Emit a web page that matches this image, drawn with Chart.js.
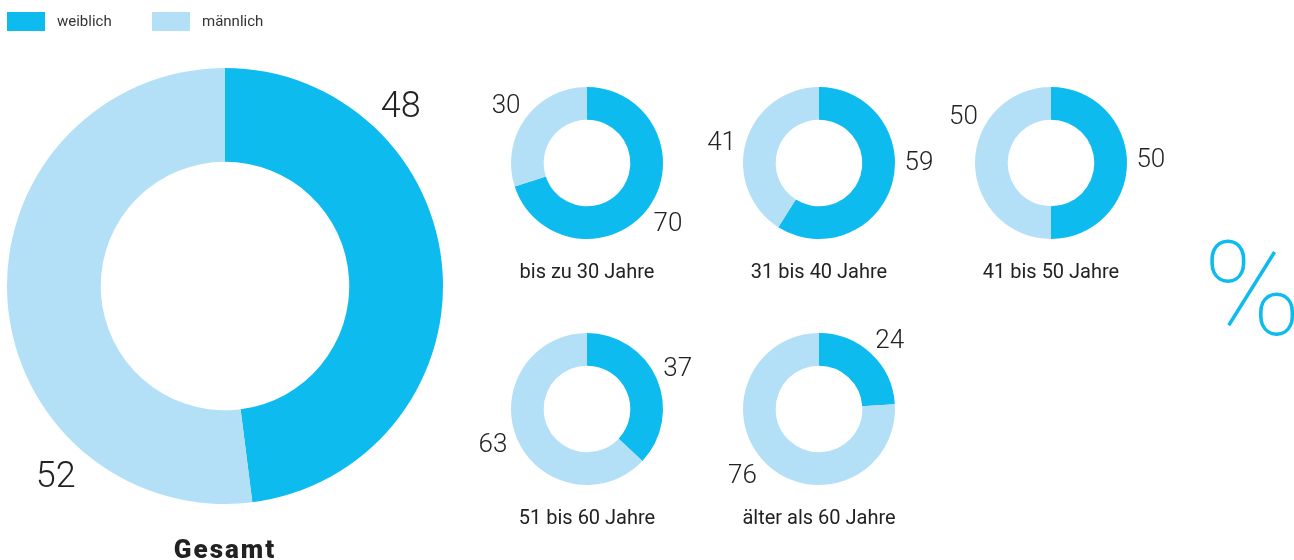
<!DOCTYPE html>
<html>
<head>
<meta charset="utf-8">
<script src="https://cdn.jsdelivr.net/npm/chart.js@4/dist/chart.umd.min.js"></script>
<style>
  body { margin: 0; background: #fff; width: 1294px; height: 560px; position: relative; overflow: hidden; font-family: Roboto, sans-serif; }
  .box { position: absolute; }
  #pct { position: absolute; left: 1203px; top: 224px; font: 100 132px Roboto, sans-serif; line-height: 1; color: #0dbbef; }
</style>
</head>
<body>
<div class="box" style="left:0;top:0;width:450px;height:560px"><canvas id="gesamt"></canvas></div>
<div class="box" style="left:471px;top:63px;width:232px;height:240px"><canvas id="g0"></canvas></div>
<div class="box" style="left:703px;top:63px;width:232px;height:240px"><canvas id="g1"></canvas></div>
<div class="box" style="left:935px;top:63px;width:232px;height:240px"><canvas id="g2"></canvas></div>
<div class="box" style="left:471px;top:309px;width:232px;height:240px"><canvas id="g3"></canvas></div>
<div class="box" style="left:703px;top:309px;width:232px;height:240px"><canvas id="g4"></canvas></div>
<div id="pct">%</div>
<script>
const genders = ['weiblich', 'männlich'];
const colors = ['#0dbbef', '#b3e0f7'];

const gesamt = [48, 52];

const groups = ['bis zu 30 Jahre', '31 bis 40 Jahre', '41 bis 50 Jahre', '51 bis 60 Jahre', 'älter als 60 Jahre'];
const weiblich = [70, 59, 50, 37, 24];
const maennlich = [30, 41, 50, 63, 76];

// label angles (degrees clockwise from top), null = middle of the slice
const labelAngles = [null, [89, 283], [87, 299], [65, 250], [45, 230]];

const valueLabels = {
    id: 'valueLabels',
    afterDatasetsDraw(chart, args, opts) {
        const ctx = chart.ctx;
        const meta = chart.getDatasetMeta(0);
        let cx = 0, cy = 0, outer = 0;
        ctx.save();
        ctx.fillStyle = '#222';
        ctx.textAlign = 'center';
        ctx.textBaseline = 'alphabetic';
        ctx.font = opts.font;
        meta.data.forEach(function(arc, i) {
            const p = arc.getProps(['x', 'y', 'startAngle', 'endAngle', 'outerRadius'], true);
            cx = p.x; cy = p.y; outer = p.outerRadius;
            let a = (p.startAngle + p.endAngle) / 2;
            if (opts.angles) {
                a = (opts.angles[i] - 90) * Math.PI / 180;
            }
            const r = p.outerRadius + opts.gap;
            // digits centred on the point
            ctx.fillText(chart.data.datasets[0].data[i], cx + r * Math.cos(a), cy + r * Math.sin(a) + opts.size * 0.355);
        });
        ctx.textBaseline = 'middle';
        ctx.font = opts.captionFont;
        ctx.letterSpacing = opts.captionSpacing || '0px';
        ctx.fillText(opts.caption, cx, cy + outer + opts.captionGap);
        ctx.restore();
    }
};

const legendBoxes = {
    id: 'legendBoxes',
    afterDraw(chart) {
        const ctx = chart.ctx;
        const xs = [7, 152];
        ctx.save();
        ctx.font = '15px Roboto, sans-serif';
        ctx.textBaseline = 'middle';
        genders.forEach(function(g, i) {
            ctx.fillStyle = colors[i];
            ctx.fillRect(xs[i], 12, 38, 19);
            ctx.fillStyle = '#333';
            ctx.fillText(g, xs[i] + 50, 22);
        });
        ctx.restore();
    }
};

function makeDonut(el, values, padding, labelOpts) {
    return new Chart(document.getElementById(el), {
        type: 'doughnut',
        data: {
            labels: genders,
            datasets: [{
                data: values,
                backgroundColor: colors,
                borderWidth: 0,
                hoverOffset: 0
            }]
        },
        options: {
            responsive: true,
            maintainAspectRatio: false,
            animation: false,
            cutout: '57%',
            layout: { padding: padding },
            events: [],
            plugins: {
                legend: { display: false },
                tooltip: { enabled: false },
                valueLabels: labelOpts
            }
        },
        plugins: el === 'gesamt' ? [valueLabels, legendBoxes] : [valueLabels]
    });
}

// Gesamt
makeDonut('gesamt', gesamt, { left: 7, right: 7, top: 68, bottom: 56 }, {
    font: '300 36px Roboto, sans-serif',
    size: 36,
    gap: 35,
    angles: [44, 222],
    caption: 'Gesamt',
    captionFont: '900 26px Roboto, sans-serif',
    captionSpacing: '2px',
    captionGap: 47
});

// Altersgruppen
groups.forEach(function(group, i) {
    makeDonut('g' + i, [weiblich[i], maennlich[i]], { left: 40, right: 40, top: 24, bottom: 64 }, {
        font: '300 26px Roboto, sans-serif',
        size: 26,
        gap: 24,
        angles: labelAngles[i],
        caption: group,
        captionFont: '20px Roboto, sans-serif',
        captionGap: 34
    });
});
</script>
</body>
</html>
